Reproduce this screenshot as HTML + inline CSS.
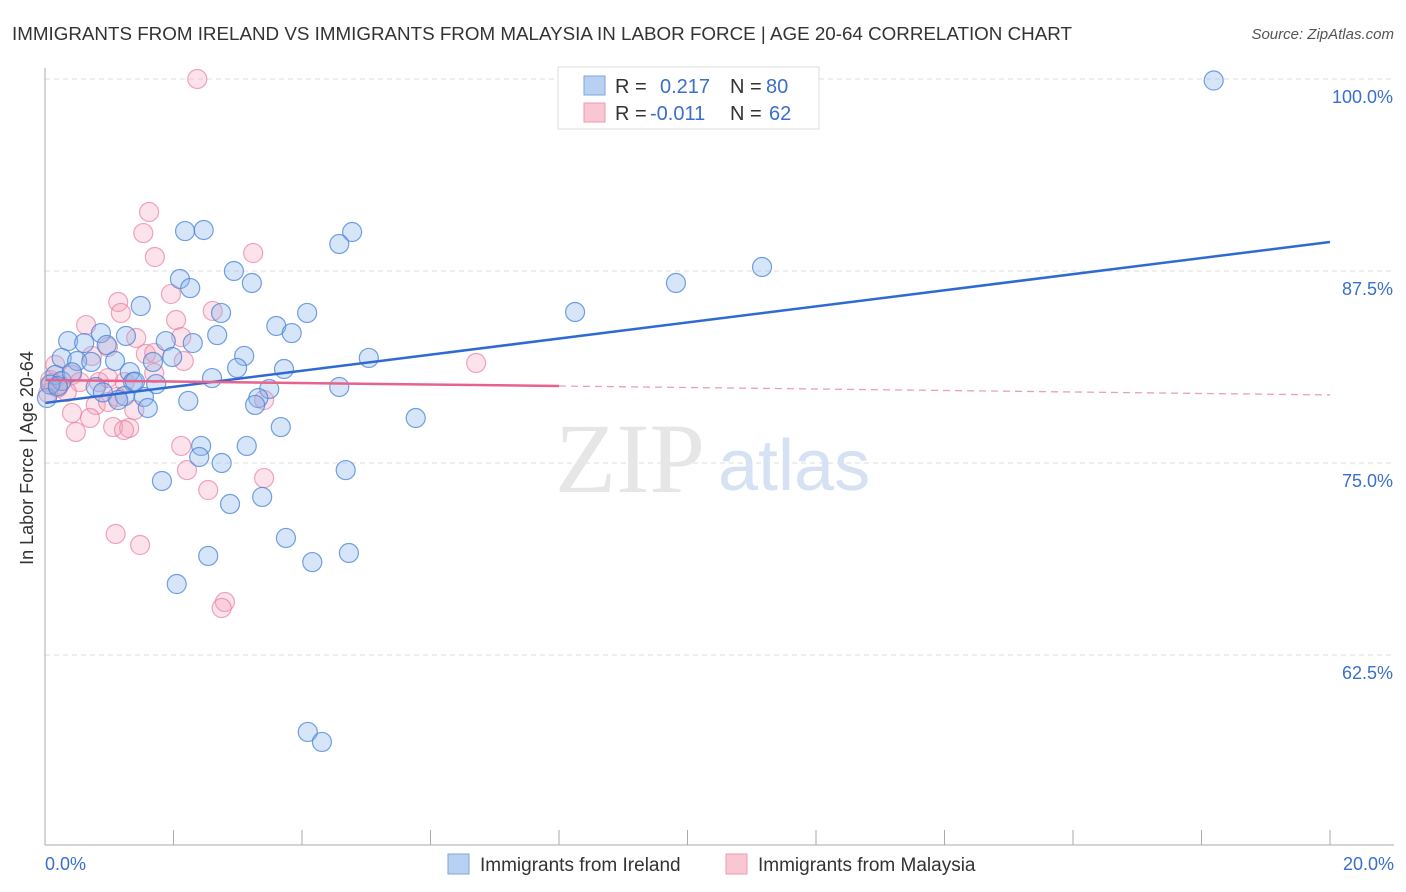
<!DOCTYPE html>
<html><head><meta charset="utf-8">
<style>
body{margin:0;background:#fff;font-family:"Liberation Sans",sans-serif;}
#wrap{position:relative;width:1406px;height:892px;overflow:hidden;}
</style></head>
<body>
<div id="wrap">
<svg id="svg" width="1406" height="892" xmlns="http://www.w3.org/2000/svg">
<text x="12" y="40" font-size="18.8" fill="#333">IMMIGRANTS FROM IRELAND VS IMMIGRANTS FROM MALAYSIA IN LABOR FORCE | AGE 20-64 CORRELATION CHART</text>
<text x="1394" y="39" font-size="15" fill="#555" font-style="italic" text-anchor="end">Source: ZipAtlas.com</text>
<g id="grid"></g>
<text x="555" y="492" font-size="100" fill="#e6e6e6" font-family="Liberation Serif,serif">ZIP</text>
<text x="718" y="490" font-size="72" fill="#d6e2f3">atlas</text>
<g id="pts"></g>
<g id="lines"></g>
<g id="axes"></g>
<text x="33" y="458" font-size="18" fill="#333" text-anchor="middle" transform="rotate(-90 33 458)">In Labor Force | Age 20-64</text>
<g>
<rect x="558" y="67" width="261" height="62" fill="#fff" stroke="#ddd"/>
<rect x="584" y="76" width="21" height="19" fill="#b8d1f3" stroke="#7ea6e0"/>
<rect x="584" y="103" width="21" height="19" fill="#f9c6d4" stroke="#eb9ab2"/>
<text x="615" y="93" font-size="20" fill="#333">R =</text>
<text x="660" y="93" font-size="20" fill="#3a6fcc">0.217</text>
<text x="730" y="93" font-size="20" fill="#333">N =</text>
<text x="766" y="93" font-size="20" fill="#3a6fcc">80</text>
<text x="615" y="120" font-size="20" fill="#333">R =</text>
<text x="650" y="120" font-size="20" fill="#3a6fcc">-0.011</text>
<text x="730" y="120" font-size="20" fill="#333">N =</text>
<text x="769" y="120" font-size="20" fill="#3a6fcc">62</text>
</g>
<g>
<rect x="448" y="854" width="21" height="20" fill="#b8d1f3" stroke="#7ea6e0"/>
<text x="480" y="871" font-size="19" fill="#333">Immigrants from Ireland</text>
<rect x="726" y="854" width="21" height="20" fill="#f9c6d4" stroke="#eb9ab2"/>
<text x="758" y="871" font-size="19" fill="#333">Immigrants from Malaysia</text>
</g>
</svg>
</div>
<script>
const yTicks=[100,87.5,75,62.5];
const yTickLabels=["100.0%","87.5%","75.0%","62.5%"];
const xTickLabels=["0.0%","20.0%"];
const irelandX=[18.19,11.16,9.82,8.25,4.78,4.58,2.47,2.18,2.10,2.26,2.94,3.22,1.49,2.74,3.60,3.84,4.08,2.68,2.30,1.88,1.26,0.87,0.36,0.61,0.96,0.26,0.50,0.72,1.09,1.68,1.98,3.10,2.99,3.72,5.04,1.32,2.60,0.16,0.26,1.37,1.73,0.79,3.49,4.58,1.24,1.54,1.14,2.23,3.32,3.27,1.60,0.03,5.77,3.67,2.43,3.14,2.40,2.75,4.68,1.82,3.38,2.88,3.75,2.54,4.73,4.16,2.05,4.09,4.31,0.08,0.42,0.9,1.4,0.2];
const irelandY=[99.9,87.76,86.72,84.83,90.04,89.26,90.17,90.10,86.98,86.39,87.50,86.72,85.22,84.77,83.92,83.46,84.77,83.33,82.81,82.94,83.27,83.46,82.94,82.81,82.68,81.84,81.64,81.58,81.64,81.58,81.90,81.97,81.19,81.12,81.84,80.92,80.53,80.73,80.34,80.27,80.14,79.95,79.82,79.95,79.36,79.30,79.10,79.04,79.23,78.78,78.58,79.23,77.93,77.34,76.11,76.11,75.39,75.00,74.54,73.83,72.79,72.33,70.12,68.95,69.14,68.55,67.12,57.49,56.84,80.1,80.9,79.6,80.3,80.0];
const malaysiaX=[2.37,1.62,1.53,1.71,3.24,1.96,1.14,1.18,2.61,2.04,0.64,1.42,2.12,0.98,1.57,1.70,2.16,0.73,6.71,0.16,0.42,0.08,0.23,0.54,0.84,0.98,1.24,1.70,0.34,0.05,1.12,0.79,0.98,3.41,1.39,0.42,0.70,1.06,1.31,1.23,0.48,2.12,2.21,3.41,2.54,1.10,1.48,2.80,2.75,0.1,0.2];
const malaysiaY=[100,91.34,89.97,88.41,88.67,86.0,85.48,84.77,84.90,84.31,83.98,83.14,83.20,82.55,82.10,82.16,81.64,81.97,81.51,81.38,80.73,80.40,80.10,80.27,80.27,80.53,80.27,80.86,79.62,79.55,79.30,78.78,78.97,79.10,78.45,78.26,77.93,77.34,77.28,77.15,77.02,76.11,74.54,74.02,73.24,70.38,69.66,65.95,65.56,80.2,79.9];
const irelandTrend=[78.91,89.39];
const malaysiaTrend=[80.40,79.43];
const malaysiaSolidEnd=8;

const NS="http://www.w3.org/2000/svg";
const X0=45,X1=1330,XMAX=20;
function sx(v){return X0+(v/XMAX)*(X1-X0);}
function sy(v){return 79+(100-v)/12.5*192;}
function mk(t,a,p){const e=document.createElementNS(NS,t);for(const k in a)e.setAttribute(k,a[k]);p.appendChild(e);return e;}
const grid=document.getElementById('grid');
yTicks.forEach((t,i)=>{
  const l=mk('line',{x1:X0,x2:1394,y1:sy(t),y2:sy(t),stroke:'#ddd','stroke-dasharray':'5,4'},grid);
  
  
  const tx=mk('text',{x:1393,y:sy(t)+24,'font-size':18,fill:'#3a6fcc','text-anchor':'end'},grid);
  tx.textContent=yTickLabels[i];
  
  
});
const ax=document.getElementById('axes');
mk('line',{x1:X0,x2:X0,y1:68,y2:845,stroke:'#aaa'},ax);
mk('line',{x1:X0,x2:1394,y1:845,y2:845,stroke:'#aaa'},ax);
for(let i=0;i<=10;i++){const x=sx(i*2);mk('line',{x1:x,x2:x,y1:830,y2:845,stroke:'#aaa'},ax);}
[[0,'start',45],[1,'end',1394]].forEach(([i,a,x])=>{
  const t=mk('text',{x:x,y:870,'font-size':18,fill:'#3a6fcc','text-anchor':a},ax);
  t.textContent=xTickLabels[i];
  
  
});
const pts=document.getElementById('pts');
malaysiaX.forEach((v,i)=>{
  const c=mk('circle',{cx:sx(v),cy:sy(malaysiaY[i]),r:9.5,fill:'rgba(245,160,186,0.3)',stroke:'rgba(232,120,155,0.65)','stroke-width':1.2},pts);
  
  
});
irelandX.forEach((v,i)=>{
  const c=mk('circle',{cx:sx(v),cy:sy(irelandY[i]),r:9.5,fill:'rgba(140,180,235,0.35)',stroke:'rgba(70,130,215,0.75)','stroke-width':1.2},pts);
  
  
});
const ln=document.getElementById('lines');
const bl=mk('line',{x1:sx(0),y1:sy(irelandTrend[0]),x2:sx(XMAX),y2:sy(irelandTrend[1]),stroke:'#2e6ad1','stroke-width':2.5},ln);


const mAt=v=>malaysiaTrend[0]+(malaysiaTrend[1]-malaysiaTrend[0])*v/XMAX;
const pl=mk('line',{x1:sx(0),y1:sy(mAt(0)),x2:sx(malaysiaSolidEnd),y2:sy(mAt(malaysiaSolidEnd)),stroke:'#e8628e','stroke-width':2.5},ln);


const pd=mk('line',{x1:sx(malaysiaSolidEnd),y1:sy(mAt(malaysiaSolidEnd)),x2:sx(XMAX),y2:sy(mAt(XMAX)),stroke:'#e8a0b8','stroke-width':1.3,'stroke-dasharray':'7,5'},ln);


</script>
</body></html>
